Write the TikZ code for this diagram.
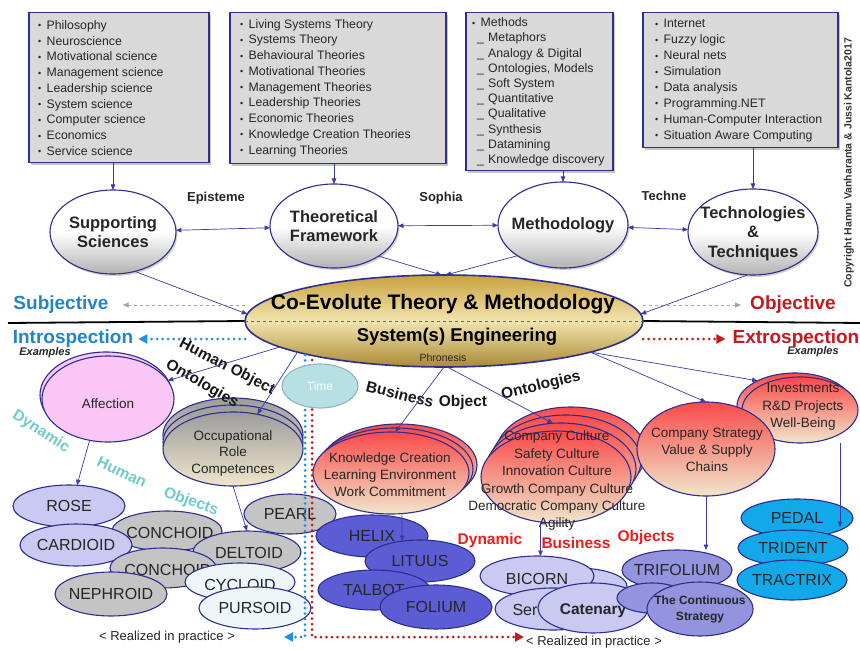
\documentclass[tikz,border=0pt]{standalone}
\usepackage{fontspec}
\setmainfont{Liberation Sans}
\usetikzlibrary{shapes.geometric,arrows.meta,shadows}
\definecolor{edgec}{HTML}{2E2E8E}
\definecolor{connc}{HTML}{3B3BA6}
\definecolor{boxg}{HTML}{D9D9D9}
\definecolor{subjb}{HTML}{2385C7}
\definecolor{dotb}{HTML}{1E90E8}
\definecolor{objr}{HTML}{C41A1F}
\definecolor{tealt}{HTML}{6FCBCB}
\definecolor{dynr}{HTML}{EE1C1C}
\definecolor{lav}{HTML}{C9C9F2}
\definecolor{grc}{HTML}{C4C4C4}
\definecolor{pale}{HTML}{EFF6FA}
\definecolor{blv}{HTML}{5C5CD4}
\definecolor{trc}{HTML}{9393DE}
\definecolor{cyb}{HTML}{11A9EA}
\definecolor{pinkc}{HTML}{F9C6F6}
\definecolor{timec}{HTML}{B6E0E3}
\definecolor{timeb}{HTML}{8FB7BA}
\definecolor{redt}{HTML}{FA4A4A}
\definecolor{beige}{HTML}{F0E6CB}
\definecolor{gold}{HTML}{C9A23E}
\definecolor{goldl}{HTML}{F2E4AE}
\definecolor{occg}{HTML}{9C9C9C}
\newcommand\myfs[2]{\fontsize{#1}{#2}\selectfont}
\newcommand\lbul{\makebox[8.5pt][l]{\myfs{9}{9}\raisebox{0.5pt}{•}}}
\newcommand\lsub{\hspace*{5pt}\makebox[11pt][l]{\_}}
\pgfdeclarelayer{bg}
\pgfsetlayers{bg,main}
\begin{document}
\begin{tikzpicture}[x=1pt,y=-1pt,
  ell/.style={ellipse,draw=edgec,line width=1.1pt,inner sep=0pt,outer sep=0pt},
  topell/.style={ell,top color=white,bottom color=black!30,middle color=white,drop shadow={shadow xshift=1.5pt,shadow yshift=-2pt,opacity=0.35}},
  redell/.style={ell,top color=redt,bottom color=beige},
  occell/.style={ell,top color=occg,bottom color=beige},
  cname/.style={inner sep=0pt,font=\myfs{16}{18},text=black!85},
  etext/.style={inner sep=0pt,align=center,text=black!85,font=\myfs{13.5}{17}},
  toplbl/.style={inner sep=0pt,align=center,text=black!85,font=\myfs{16.5}{19.5}\bfseries},
  boxn/.style={draw=edgec,line width=1.5pt,fill=boxg,anchor=north west,inner sep=0pt,drop shadow={shadow xshift=2pt,shadow yshift=-2pt,opacity=0.45}},
  listt/.style={anchor=west,inner sep=0pt,align=left,text=black!85},
  conn/.style={draw=connc,line width=0.7pt},
  tip/.style={-{Triangle[length=5.5pt,width=4.5pt]}},
  tips/.style={{Triangle[length=5.5pt,width=4.5pt]}-{Triangle[length=5.5pt,width=4.5pt]}},
  sect/.style={inner sep=0pt,font=\myfs{13}{15}\bfseries,text=black!85},
  bigl/.style={inner sep=0pt,font=\myfs{19}{21}\bfseries},
  bdot/.style={draw=dotb,line width=3pt,line cap=round,dash pattern=on 0pt off 5.5pt},
  rdot/.style={draw=objr,line width=3pt,line cap=round,dash pattern=on 0pt off 5.5pt},
  dotip/.style={-{Triangle[length=9pt,width=9pt]}},
  rotl/.style={inner sep=0pt,font=\myfs{15.5}{17}\bfseries,text=black!90},
]
\useasboundingbox (0,0) rectangle (860,650);
\begin{pgfonlayer}{bg}
\fill[white] (0,0) rectangle (860,650);
\end{pgfonlayer}

% ---------- top boxes ----------
\node[boxn,minimum width=180,minimum height=150] (box1) at (28,12) {};
\node[listt,font=\myfs{12.3}{15.75}] (box1T) at (38,88) {\lbul Philosophy\\\lbul Neuroscience\\\lbul Motivational science\\\lbul Management science\\\lbul Leadership science\\\lbul System science\\\lbul Computer science\\\lbul Economics\\\lbul Service science};
\node[boxn,minimum width=216,minimum height=151] (box2) at (229,12) {};
\node[listt,font=\myfs{12.3}{15.75}] (box2T) at (240,88) {\lbul Living Systems Theory\\\lbul Systems Theory\\\lbul Behavioural Theories\\\lbul Motivational Theories\\\lbul Management Theories\\\lbul Leadership Theories\\\lbul Economic Theories\\\lbul Knowledge Creation Theories\\\lbul Learning Theories};
\node[boxn,minimum width=147,minimum height=158] (box3) at (465,12) {};
\node[listt,font=\myfs{12.3}{15.2}] (box3T) at (472,92) {\lbul Methods\\\lsub Metaphors\\\lsub Analogy \& Digital\\\lsub Ontologies, Models\\\lsub Soft System\\\lsub Quantitative\\\lsub Qualitative\\\lsub Synthesis\\\lsub Datamining\\\lsub Knowledge discovery};
\node[boxn,minimum width=195,minimum height=135] (box4) at (642,12) {};
\node[listt,font=\myfs{12.3}{15.9}] (box4T) at (655,80.5) {\lbul Internet\\\lbul Fuzzy logic\\\lbul Neural nets\\\lbul Simulation\\\lbul Data analysis\\\lbul Programming.NET\\\lbul Human-Computer Interaction\\\lbul Situation Aware Computing};

% ---------- top ellipses ----------
\node[topell,minimum width=126,minimum height=84] (sup) at (113,232) {};
\node[toplbl] (supT) at (sup) {Supporting\\Sciences};
\node[topell,minimum width=128,minimum height=84] (theo) at (334,226) {};
\node[toplbl] (theoT) at (theo) {Theoretical\\Framework};
\node[topell,minimum width=130,minimum height=86] (meth) at (563,225) {};
\node[toplbl] (methT) at (meth) {Methodology};
\node[topell,minimum width=130,minimum height=86] (tech) at (753,232) {};
\node[toplbl] (techT) at (753,233.5) {Technologies\\\&\\Techniques};

\node[sect] (epi) at (216,198) {Episteme};
\node[sect] (soph) at (441,198) {Sophia};
\node[sect] (techne) at (664,196) {Techne};

% ---------- core ----------
\node[ell,line width=1.6pt,minimum width=398,minimum height=92,top color=gold,bottom color=gold!85!black,middle color=goldl] (core) at (444,321) {};
\draw[dashed,black!60,line width=0.5pt] (core.west) -- (core.east);
\node[inner sep=0pt,font=\myfs{21}{23}\bfseries] (coreT1) at (443,304) {Co-Evolute Theory \& Methodology};
\node[inner sep=0pt,font=\myfs{18.5}{20}\bfseries] (coreT2) at (457,337) {System(s) Engineering};
\node[inner sep=0pt,font=\myfs{10.5}{12},text=black!85] (coreT3) at (443,358) {Phronesis};

% side labels
\node[bigl,text=subjb] (subj) at (61,305) {Subjective};
\node[bigl,text=objr] (obj) at (793,305) {Objective};
\node[bigl,text=subjb] (intro) at (73,339) {Introspection};
\node[bigl,text=objr] (extro) at (796,339) {Extrospection};
\node[inner sep=0pt,font=\myfs{11}{12}\bfseries\itshape,text=black!85] (exl) at (45,353) {Examples};
\node[inner sep=0pt,font=\myfs{11}{12}\bfseries\itshape,text=black!85] (exr) at (813,352) {Examples};
\node[inner sep=0pt,rotate=90,font=\myfs{10.5}{12}\bfseries,text=black!80] (copy) at (849,163) {Copyright Hannu Vanharanta \& Jussi Kantola2017};

\begin{pgfonlayer}{bg}
\draw[line width=1.8pt] (8,323) -- (core.west);
\draw[line width=1.8pt] (core.east) -- (860,323);
\draw[black!35,dashed,line width=1pt,-{Triangle[length=6pt,width=5pt]}] (subj.east -| core.west) -- ([xshift=14pt]subj.east);
\draw[black!35,dashed,line width=1pt,-{Triangle[length=6pt,width=5pt]}] (obj.west -| core.east) -- ([xshift=-9pt]obj.west);
\draw[bdot,dotip] (intro.east -| core.west) -- ([xshift=5pt]intro.east);
\draw[rdot,dotip] (extro.west -| core.east) -- ([xshift=-7pt]extro.west);
\end{pgfonlayer}

% ---------- lower left ----------
\node[ell,fill=pinkc,minimum width=132,minimum height=86] (affb) at (106,395) {};
\node[ell,fill=pinkc,minimum width=132,minimum height=86] (aff) at (108,399) {};
\node[etext] (affT) at (108,404) {Affection};
\node[occell,minimum width=140,minimum height=74] (occb2) at (233,435) {};
\node[occell,minimum width=140,minimum height=74] (occb1) at (233,442) {};
\node[occell,minimum width=140,minimum height=74] (occ) at (233,449) {};
\node[etext,font=\myfs{13.5}{16.5}] (occT) at (233,453.5) {Occupational\\Role\\Competences};

\node[ell,fill=lav,minimum width=112,minimum height=42] (rose) at (69,506) {};
\node[cname] (roseT) at (rose) {ROSE};
\node[ell,fill=grc,minimum width=110,minimum height=40] (conch1) at (167,531) {};
\node[cname] (conch1T) at (170,533) {CONCHOID};
\node[ell,fill=lav,minimum width=112,minimum height=42] (card) at (76,545) {};
\node[cname] (cardT) at (card) {CARDIOID};
\node[ell,fill=grc,minimum width=92,minimum height=40] (pearl) at (290,514) {};
\node[cname] (pearlT) at (pearl) {PEARL};
\node[ell,fill=grc,minimum width=108,minimum height=42] (delt) at (247,552) {};
\node[cname] (deltT) at (249,553) {DELTOID};
\node[ell,fill=grc,minimum width=106,minimum height=40] (conch2) at (163,568) {};
\node[cname] (conch2T) at (168,570) {CONCHOID};
\node[ell,fill=grc,minimum width=112,minimum height=44] (neph) at (111,594) {};
\node[cname] (nephT) at (neph) {NEPHROID};
\node[ell,fill=pale,minimum width=110,minimum height=38] (cyc) at (240,582) {};
\node[cname] (cycT) at (240,585) {CYCLOID};
\node[ell,fill=pale,minimum width=112,minimum height=42] (purs) at (255,608) {};
\node[cname] (pursT) at (purs) {PURSOID};

% ---------- middle ----------
\node[redell,minimum width=156,minimum height=82] (knowb2) at (399,465) {};
\node[redell,minimum width=156,minimum height=82] (knowb1) at (395,469) {};
\node[redell,minimum width=156,minimum height=82] (know) at (391,473) {};
\node[etext] (knowT) at (390,475) {Knowledge Creation\\Learning Environment\\Work Commitment};

\node[ell,fill=blv,minimum width=112,minimum height=42] (helix) at (372,536) {};
\node[cname] (helixT) at (helix) {HELIX};
\node[ell,fill=blv,minimum width=110,minimum height=42] (lituus) at (420,561) {};
\node[cname] (lituusT) at (lituus) {LITUUS};
\node[ell,fill=blv,minimum width=112,minimum height=40] (talbot) at (374,590) {};
\node[cname] (talbotT) at (talbot) {TALBOT};
\node[ell,fill=blv,minimum width=112,minimum height=44] (folium) at (436,607) {};
\node[cname] (foliumT) at (folium) {FOLIUM};

\node[redell,minimum width=150,minimum height=92] (cultb3) at (571,453) {};
\node[redell,minimum width=150,minimum height=92] (cultb2) at (566,461) {};
\node[redell,minimum width=150,minimum height=92] (cultb1) at (561,469) {};
\node[redell,minimum width=150,minimum height=92] (cult) at (556,477) {};
\node[etext,font=\myfs{13.5}{17.4}] (cultT) at (557,481) {Company Culture\\Safety Culture\\Innovation Culture\\Growth Company Culture\\Democratic Company Culture\\Agility};

\node[ell,fill=lav,minimum width=100,minimum height=36] (bicb) at (577,586) {};
\node[ell,fill=lav,minimum width=114,minimum height=40] (bicorn) at (537,576) {};
\node[cname] (bicornT) at (537,579) {BICORN};
\node[ell,fill=lav,minimum width=116,minimum height=42] (ser) at (553,609) {};
\node[cname] (serT) at (525,610) {Ser};
\node[ell,fill=lav,minimum width=110,minimum height=50] (caten) at (593,608) {};
\node[cname,font=\myfs{15.5}{17}\bfseries] (catenT) at (593,611) {Catenary};

% ---------- right ----------
\node[redell,minimum width=116,minimum height=66] (invb) at (795,406) {};
\node[redell,minimum width=116,minimum height=66] (inv) at (800,410) {};
\node[etext,font=\myfs{13.5}{17.5}] (invT) at (803,407) {Investments\\R\&D Projects\\Well-Being};
\node[redell,minimum width=138,minimum height=94] (strat) at (706,449) {};
\node[etext] (stratT) at (707,450) {Company Strategy\\Value \& Supply\\Chains};

\node[ell,fill=trc,minimum width=110,minimum height=40] (trif) at (677,570) {};
\node[cname] (trifT) at (trif) {TRIFOLIUM};
\node[ell,fill=trc,minimum width=70,minimum height=30] (contb) at (652,598) {};
\node[ell,fill=trc,minimum width=106,minimum height=54] (contin) at (700,609) {};
\node[inner sep=0pt,align=center,font=\myfs{12}{16}\bfseries,text=black!85] (continT) at (contin) {The Continuous\\Strategy};

\node[ell,fill=cyb,minimum width=112,minimum height=38] (pedal) at (797,518) {};
\node[cname] (pedalT) at (pedal) {PEDAL};
\node[ell,fill=cyb,minimum width=110,minimum height=36] (trid) at (793,548) {};
\node[cname] (tridT) at (trid) {TRIDENT};
\node[ell,fill=cyb,minimum width=110,minimum height=40] (tract) at (792,580) {};
\node[cname] (tractT) at (tract) {TRACTRIX};

% ---------- realized in practice ----------
\node[inner sep=0pt,font=\myfs{13}{15},text=black!85] (rp1) at (167,637) {< Realized in practice >};
\node[inner sep=0pt,font=\myfs{13}{15},text=black!85] (rp2) at (594,642) {< Realized in practice >};
\coordinate (bluetop) at (305,355);
\coordinate (bluebot) at (305,637);
\coordinate (bluetip) at (284,637);
\coordinate (redtop) at (312,360);
\coordinate (redbot) at (312,637);
\coordinate (redtip) at (524,637);
\draw[bdot,dotip] (bluetop) -- (bluebot) -- (bluetip);
\draw[rdot,dotip] (redtop) -- (redbot) -- (redtip);

\node[ell,draw=timeb,fill=timec,minimum width=76,minimum height=44] (time) at (320,386) {};
\node[inner sep=0pt,font=\myfs{12}{14},text=white] (timeT) at (time) {Time};

% ---------- rotated labels ----------
\node[rotl,rotate=-27] (hobj) at (227,367) {Human Object};
\node[rotl,rotate=-30] (onto1) at (202,384) {Ontologies};
\node[rotl,rotate=-14] (bus) at (400,394) {Business};
\node[rotl] (objt) at (463,402) {Object};
\node[rotl,rotate=14] (onto2) at (541,386) {Ontologies};
\node[rotl,text=tealt,rotate=-33] (dyn1) at (41,432) {Dynamic};
\node[rotl,text=tealt,rotate=-25] (hum) at (122,472) {Human};
\node[rotl,text=tealt,rotate=-20] (objs1) at (191,502) {Objects};
\node[rotl,text=dynr] (dyn2) at (490,540) {Dynamic};
\node[rotl,text=dynr] (bus2) at (576,543) {Business};
\node[rotl,text=dynr] (objs2) at (646,537) {Objects};

% ---------- connectors ----------
\draw[conn,tip] (sup.north |- box1.south) -- (sup.north);
\draw[conn,tip] (theo.north |- box2.south) -- (theo.north);
\draw[conn,tip] (meth.north |- box3.south) -- (meth.north);
\draw[conn,tip] (tech.north |- box4.south) -- (tech.north);
\draw[conn,tips] (sup) -- (theo);
\draw[conn,tips] (theo) -- (meth);
\draw[conn,tips] (meth) -- (tech);
\draw[conn,tip] (sup.-61) -- (core.178);
\draw[conn,tip] (theo.-34) -- (core.93);
\draw[conn,tip] (meth.214) -- (core.88);
\draw[conn,tip] (tech.263) -- (core.2);
\draw[conn,tip] (core.189) -- (aff.17);
\draw[conn,tip] (core.192.5) -- (occ.55);
\draw[conn,tip] (aff.246) -- (rose.69);
\draw[conn,tip] (occ.south) -- (delt.north);
\draw[conn,tip] (core.south) -- (know.84);
\draw[conn,tip] (know.-75.5) -- (lituus.132);
\draw[conn,tip] (core.-86) -- (cultb1.100);
\draw[conn,tip] (bicorn.80 |- cult.south) -- (bicorn.80);
\draw[conn,tip] (core.-12.5) -- (strat.north);
\draw[conn,tip] (core.-12.5) -- (invb.146.7);
\draw[conn,tip] (strat.south) -- (strat.south |- trif.north);
\coordinate (pedaltip) at (840,527);
\draw[conn,tip] (pedaltip |- inv.south) -- (pedaltip);
\end{tikzpicture}
\end{document}
